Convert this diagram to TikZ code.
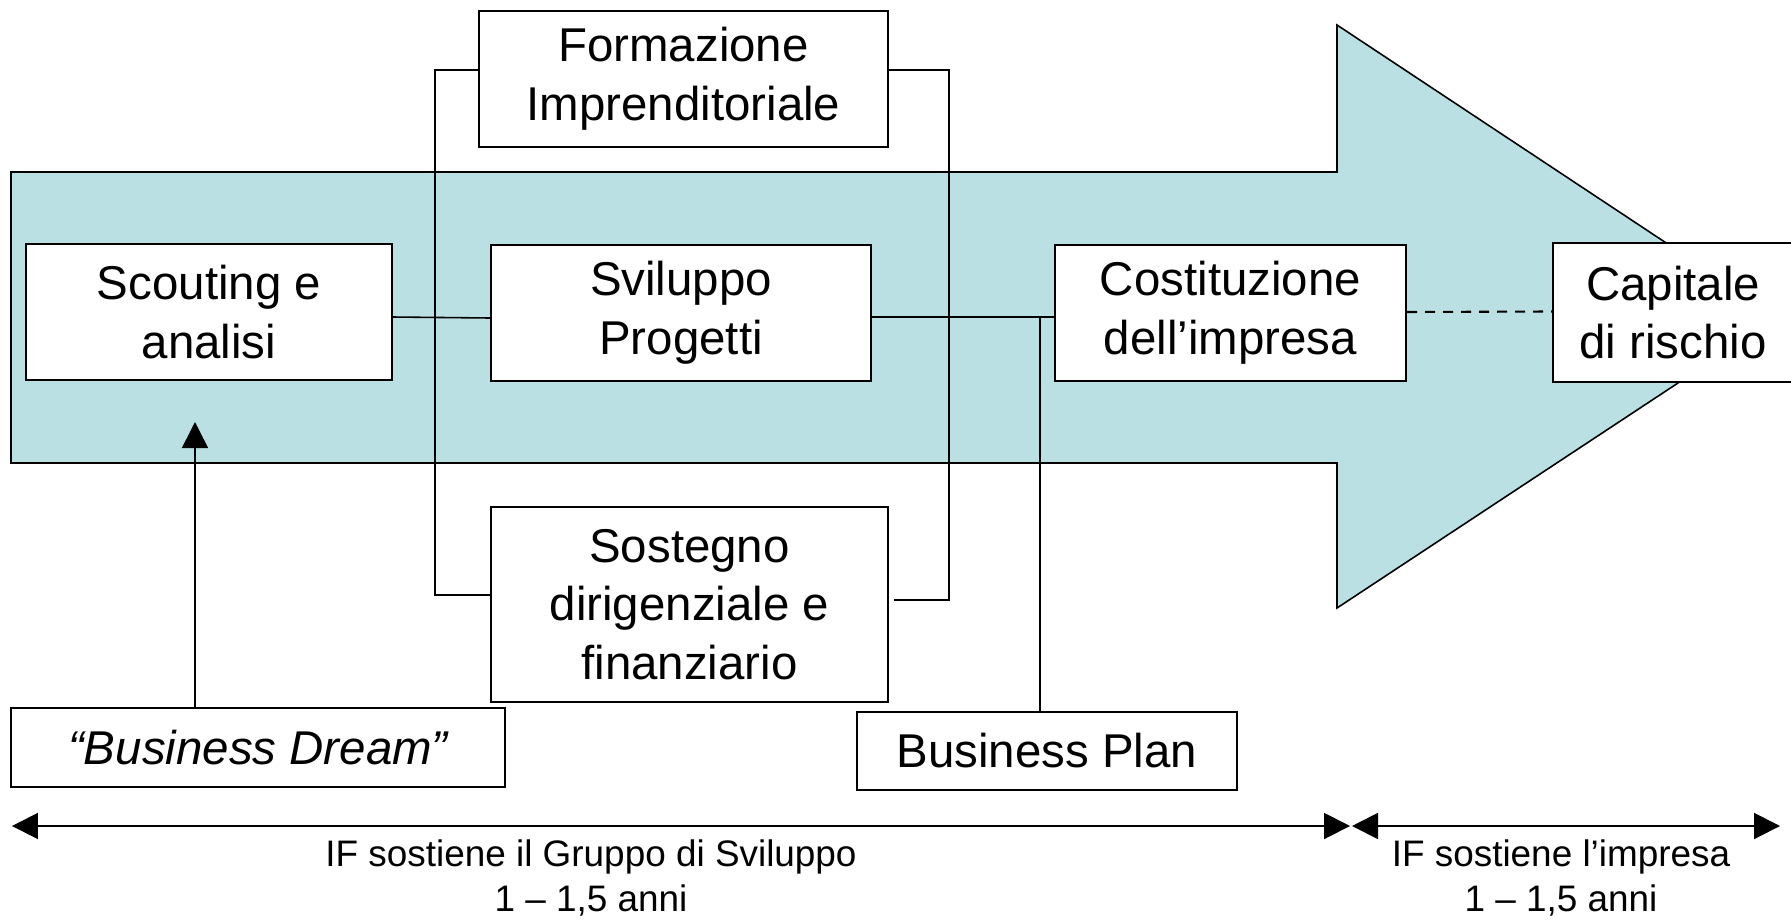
\documentclass[tikz,border=0pt]{standalone}
\usepackage{fontspec}
\setmainfont{Liberation Sans}
\usetikzlibrary{arrows.meta}
\definecolor{band}{RGB}{187,224,227}
\tikzset{tri/.tip={Triangle[length=0.52cm,width=0.52cm]}}
\begin{document}
\begin{tikzpicture}[x=0.02cm,y=-0.02cm,
  box/.style={draw,line width=1.2pt,fill=white,inner sep=0pt,align=center,font=\fontsize{27}{33.4}\selectfont},
  conn/.style={line width=0.9pt},
  lab/.style={align=center,font=\fontsize{21}{26}\selectfont},
]
\clip (0,0) rectangle (1791,920);
\fill[white] (0,0) rectangle (1791,920);
% big arrow band
\filldraw[fill=band, line width=0.9pt] (11,172) -- (1337,172) -- (1337,25) -- (1778,317) -- (1337,608) -- (1337,463) -- (11,463) -- cycle;

\coordinate (bpj) at (1040,317);
\coordinate (rb) at (894,600);
\coordinate (up) at (195,422);

% nodes
\node[box,minimum width=8.18cm,minimum height=2.72cm] (form) at (683.5,79) {Formazione\\Imprenditoriale};
\node[box,minimum width=7.32cm,minimum height=2.72cm] (scout) at (209,312) {Scouting e\\analisi};
\node[box,minimum width=7.6cm,minimum height=2.72cm] (svil) at (681,313) {Sviluppo\\Progetti};
\node[box,minimum width=7.02cm,minimum height=2.72cm] (cost) at (1230.5,313) {Costituzione\\dell’impresa};
\node[box,minimum width=4.8cm,minimum height=2.78cm] (cap) at (1673,312.5) {Capitale\\di rischio};
\node[box,minimum width=7.94cm,minimum height=3.9cm] (sost) at (689.5,604.5) {Sostegno\\dirigenziale e\\finanziario};
\node[box,minimum width=9.88cm,minimum height=1.58cm] (dream) at (258,747.5) {\itshape “Business Dream”};
\node[box,minimum width=7.6cm,minimum height=1.56cm] (plan) at (1047,751) {Business Plan};

% horizontal chain
\draw[conn] ([yshift=-0.1cm]scout.east) -- ([yshift=-0.1cm]svil.west);
\draw[conn] ([yshift=-0.08cm]svil.east) -- ([yshift=-0.08cm]cost.west);
\draw[conn] (1040,0 |- plan.north) -- (bpj);
\draw[line width=1.2pt,dash pattern=on 0.2cm off 0.16cm] ([yshift=0.02cm]cost.east) -- ([yshift=0.02cm]cap.west);

% brackets
\draw[conn] ([yshift=0.18cm]form.west) -| (435,595) -- (sost.west |- 0,595);
\draw[conn] ([yshift=0.18cm]form.east) -| (949,600) -- (rb);

% business dream arrow
\draw[conn,-tri] (dream.north -| 195,0) -- (up);

% timeline arrows
\coordinate (t1) at (12,826);
\coordinate (t2) at (1350,826);
\coordinate (t3) at (1352,826);
\coordinate (t4) at (1780,826);
\draw[line width=1.1pt,tri-tri] (t1) -- (t2);
\draw[line width=1.1pt,tri-tri] (t3) -- (t4);

\node[lab] (l1) at (591,878) {IF sostiene il Gruppo di Sviluppo\\1 – 1,5 anni};
\node[lab] (l2) at (1561,878) {IF sostiene l’impresa\\1 – 1,5 anni};
\end{tikzpicture}
\end{document}
